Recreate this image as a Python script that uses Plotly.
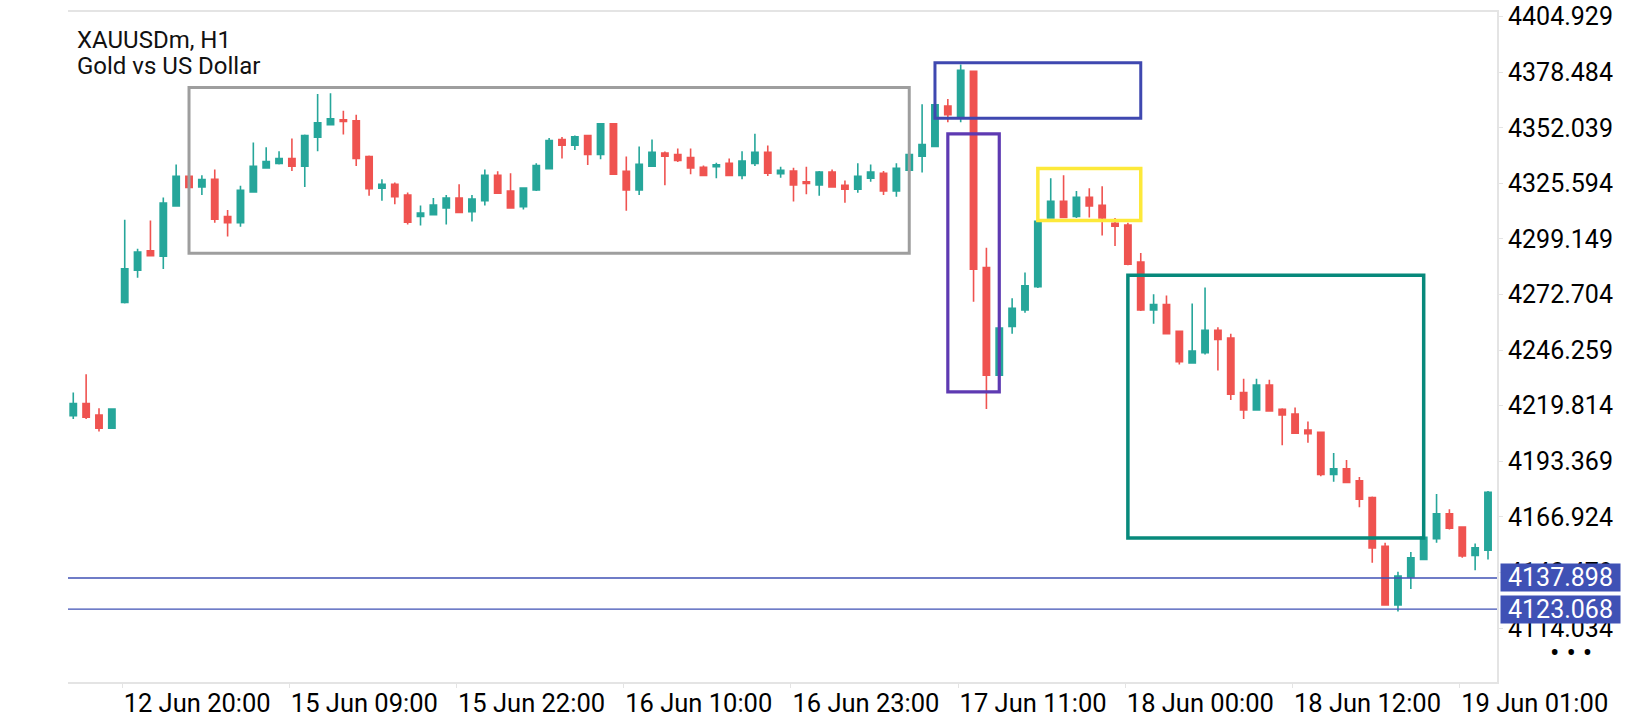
import plotly.graph_objects as go

# XAUUSDm H1 candles (bar index 0..110)
opens = [4215.1, 4220.9, 4215.4, 4209.1, 4269.0, 4284.3, 4293.5, 4290.9, 4314.9, 4328.9,
         4323.9, 4327.5, 4309.8, 4306.9, 4321.5, 4332.9, 4335.1, 4337.4, 4333.8, 4347.5,
         4353.5, 4355.8, 4355.4, 4338.4, 4323.3, 4325.2, 4320.0, 4309.8, 4310.7, 4313.9,
         4318.6, 4312.1, 4317.3, 4329.4, 4321.9, 4314.5, 4322.5, 4332.6, 4346.4, 4343.7,
         4348.3, 4339.3, 4353.9, 4331.3, 4322.5, 4333.8, 4340.0, 4339.3, 4337.9, 4333.2,
         4333.5, 4335.1, 4329.4, 4335.1, 4340.4, 4330.2, 4331.5, 4326.3, 4324.8, 4331.0,
         4324.7, 4322.8, 4328.0, 4330.4, 4322.0, 4331.8, 4338.5, 4343.2, 4362.4, 4357.4,
         4378.9, 4285.5, 4234.3, 4257.5, 4265.4, 4276.4, 4309.1, 4317.0, 4309.8, 4318.9,
         4315.1, 4306.6, 4305.8, 4288.2, 4265.4, 4267.9, 4255.2, 4240.2, 4245.0, 4255.7,
         4252.0, 4226.1, 4217.8, 4229.7, 4218.1, 4215.9, 4208.2, 4207.2, 4187.1, 4189.8,
         4184.1, 4176.1, 4153.0, 4125.0, 4138.4, 4146.7, 4156.6, 4168.4, 4162.1, 4148.6,
         4151.1]
highs = [4226.1, 4234.8, 4218.6, 4218.6, 4308.3, 4294.5, 4307.9, 4318.9, 4334.6, 4329.4,
         4329.4, 4332.2, 4312.9, 4324.5, 4345.0, 4342.8, 4340.9, 4346.9, 4348.8, 4368.1,
         4368.4, 4360.1, 4358.2, 4338.8, 4327.5, 4326.0, 4321.2, 4315.0, 4318.6, 4320.0,
         4325.2, 4320.0, 4332.2, 4331.3, 4330.4, 4323.6, 4335.1, 4347.2, 4347.7, 4348.3,
         4348.6, 4354.3, 4354.3, 4338.4, 4343.1, 4346.4, 4340.7, 4342.2, 4342.2, 4334.1,
         4335.4, 4337.4, 4340.9, 4349.2, 4343.6, 4333.5, 4333.0, 4333.5, 4331.5, 4332.2,
         4327.0, 4335.2, 4334.6, 4331.5, 4335.2, 4340.2, 4363.2, 4363.4, 4365.7, 4382.1,
         4379.2, 4295.0, 4257.2, 4270.9, 4283.2, 4310.0, 4328.0, 4329.4, 4321.9, 4323.3,
         4324.2, 4309.1, 4306.8, 4292.5, 4272.8, 4272.2, 4255.6, 4268.5, 4276.1, 4257.2,
         4254.1, 4232.7, 4232.7, 4232.2, 4218.6, 4219.0, 4212.3, 4207.6, 4197.3, 4194.0,
         4185.9, 4176.6, 4154.6, 4140.9, 4150.2, 4158.2, 4177.8, 4170.6, 4162.4, 4154.3,
         4179.3]
lows = [4213.5, 4213.5, 4207.5, 4208.8, 4268.5, 4280.7, 4290.9, 4284.8, 4314.5, 4323.1,
        4320.1, 4306.9, 4300.3, 4305.0, 4321.1, 4332.7, 4334.6, 4331.5, 4323.9, 4340.9,
        4353.2, 4348.8, 4333.8, 4319.7, 4317.3, 4315.7, 4306.0, 4305.5, 4310.5, 4306.0,
        4311.5, 4307.4, 4315.0, 4320.6, 4313.7, 4313.1, 4322.0, 4332.2, 4337.4, 4341.4,
        4334.3, 4337.0, 4329.8, 4312.6, 4320.0, 4333.6, 4324.7, 4335.7, 4329.9, 4329.1,
        4328.0, 4329.1, 4327.5, 4333.8, 4329.1, 4328.3, 4317.0, 4320.4, 4319.7, 4323.6,
        4316.4, 4321.1, 4326.4, 4320.1, 4319.2, 4331.4, 4330.7, 4342.8, 4354.7, 4354.7,
        4269.3, 4218.2, 4234.0, 4254.1, 4264.1, 4275.8, 4308.8, 4309.1, 4309.1, 4309.4,
        4300.8, 4295.8, 4286.6, 4264.9, 4258.8, 4253.8, 4239.4, 4239.9, 4244.2, 4236.6,
        4222.5, 4213.5, 4217.6, 4217.1, 4201.0, 4206.5, 4202.2, 4186.3, 4183.7, 4183.2,
        4171.5, 4145.1, 4124.8, 4121.9, 4132.6, 4146.6, 4154.6, 4160.9, 4147.5, 4141.5,
        4146.7]
closes = [4220.9, 4214.3, 4209.1, 4218.2, 4285.0, 4292.9, 4291.2, 4316.2, 4328.9, 4323.6,
          4327.4, 4308.6, 4306.9, 4322.3, 4333.7, 4336.0, 4337.4, 4333.7, 4348.3, 4354.4,
          4356.3, 4355.0, 4337.4, 4323.0, 4325.2, 4319.2, 4307.1, 4311.5, 4315.3, 4318.6,
          4311.8, 4318.1, 4329.4, 4320.9, 4313.9, 4323.3, 4334.1, 4345.9, 4343.7, 4347.7,
          4339.3, 4353.9, 4330.0, 4322.5, 4334.6, 4340.4, 4338.5, 4336.5, 4332.9, 4329.4,
          4334.4, 4329.4, 4336.2, 4340.4, 4330.4, 4331.8, 4324.8, 4325.5, 4331.0, 4323.9,
          4322.8, 4328.9, 4331.0, 4322.0, 4332.7, 4339.3, 4344.0, 4362.9, 4358.2, 4379.4,
          4284.8, 4234.3, 4256.8, 4266.2, 4276.9, 4307.5, 4317.0, 4309.4, 4318.9, 4314.8,
          4309.1, 4305.2, 4287.1, 4265.4, 4267.9, 4254.1, 4240.7, 4245.8, 4255.7, 4251.3,
          4225.3, 4217.8, 4229.7, 4217.3, 4215.4, 4206.8, 4206.5, 4187.1, 4189.8, 4183.3,
          4175.3, 4152.2, 4125.0, 4138.8, 4147.5, 4157.2, 4168.4, 4161.6, 4148.3, 4152.2,
          4178.6]
bars = list(range(len(opens)))

# time axis labels and the bar each one belongs to
time_labels = ["12 Jun 20:00", "15 Jun 09:00", "15 Jun 22:00", "16 Jun 10:00", "16 Jun 23:00",
               "17 Jun 11:00", "18 Jun 00:00", "18 Jun 12:00", "19 Jun 01:00"]
time_label_bars = [4, 17, 30, 43, 56, 69, 82, 95, 108]

# price scale labels
price_ticks = [4404.929, 4378.484, 4352.039, 4325.594, 4299.149, 4272.704,
               4246.259, 4219.814, 4193.369, 4166.924, 4140.479, 4114.034]

# drawn zones: first bar, last bar, top price, bottom price
zone_start = [9, 67, 68, 75, 82]
zone_end = [65, 83, 72, 83, 105]
zone_top = [4371.2, 4383.0, 4349.1, 4332.7, 4281.9]
zone_bottom = [4292.3, 4356.6, 4226.4, 4307.9, 4156.9]
zone_colors = ['#9e9e9e', '#3f48b0', '#5e3ab2', '#fde93a', '#07897b']
zone_widths = [3, 3, 3.2, 3.5, 3.5]

# horizontal levels
levels = [4137.898, 4123.068]

TEAL = '#26a69a'
RED = '#ef5350'
LEVEL = '#3f51b5'
FRAME = '#e4e4e4'

# plot area in pixels
W, H = 1640, 720
L, R, T, B = 68, 1497, 2, 692


def paper_x(px):
    return (px - L) / (R - L)


def paper_y(py):
    return (B - py) / (B - T)


fig = go.Figure()

fig.add_trace(go.Candlestick(
    x=bars, open=opens, high=highs, low=lows, close=closes,
    increasing=dict(line=dict(color=TEAL, width=1.6), fillcolor=TEAL),
    decreasing=dict(line=dict(color=RED, width=1.6), fillcolor=RED),
    whiskerwidth=0,
    hoverinfo='skip',
    showlegend=False,
))

shapes = []
for x0, x1, y0, y1, c, w in zip(zone_start, zone_end, zone_top, zone_bottom, zone_colors, zone_widths):
    shapes.append(dict(type='rect', xref='x', yref='y', x0=x0, x1=x1, y0=y0, y1=y1,
                       line=dict(color=c, width=w), fillcolor='rgba(0,0,0,0)'))
for lv in levels:
    shapes.append(dict(type='line', xref='paper', yref='y', x0=0, x1=1, y0=lv, y1=lv,
                       line=dict(color=LEVEL, width=1.4)))

annotations = [
    dict(text='XAUUSDm, H1', xref='paper', yref='paper', x=paper_x(75), y=paper_y(31),
         xanchor='left', yanchor='middle', showarrow=False,
         font=dict(family='Roboto', size=24, color='#111')),
    dict(text='Gold vs US Dollar', xref='paper', yref='paper', x=paper_x(75), y=paper_y(58),
         xanchor='left', yanchor='middle', showarrow=False,
         font=dict(family='Roboto', size=24, color='#111')),
    dict(text='\u2022 \u2022 \u2022', xref='paper', yref='paper', x=paper_x(1571), y=paper_y(662),
         xanchor='center', yanchor='middle', showarrow=False,
         font=dict(family='Roboto', size=28, color='#000')),
]
for lv in levels:
    annotations.append(dict(
        text=f'{lv:.3f}', xref='paper', yref='y', x=1, y=lv, xanchor='left', yanchor='middle',
        xshift=3, showarrow=False, bgcolor=LEVEL, width=117, height=25, borderpad=1,
        align='center', font=dict(family='Roboto', size=25, color='white')))

fig.update_layout(
    width=W, height=H,
    margin=dict(l=L, r=W - R, t=T, b=H - B),
    plot_bgcolor='white', paper_bgcolor='white',
    boxgap=0.3,
    shapes=shapes,
    annotations=annotations,
    xaxis=dict(
        range=[-0.41, 110.7],
        rangeslider=dict(visible=False),
        showgrid=False, zeroline=False,
        showline=True, mirror=True, linecolor=FRAME, linewidth=2,
        ticks='outside', ticklen=4, tickcolor=FRAME, tickwidth=1,
        tickvals=[b - 0.2 for b in time_label_bars], ticktext=time_labels,
        ticklabelshift=75, ticklabelstandoff=-7, ticklabeloverflow='allow',
        tickfont=dict(family='Roboto', size=25.5, color='#000'),
    ),
    yaxis=dict(
        side='right',
        range=[4088.4, 4407.1],
        showgrid=False, zeroline=False,
        showline=True, linecolor=FRAME, linewidth=2,
        ticks='outside', ticklen=4, tickcolor=FRAME, tickwidth=1,
        tickvals=price_ticks, ticktext=[f'{p:.3f}' for p in price_ticks],
        ticklabeloverflow='allow',
        tickfont=dict(family='Roboto', size=25, color='#000'),
    ),
)

# drop the browser's default page margin so the figure sits at the window's corner
fig.write_html("out.html", config={'displayModeBar': False},
               post_script="document.body.style.margin = '0';")
